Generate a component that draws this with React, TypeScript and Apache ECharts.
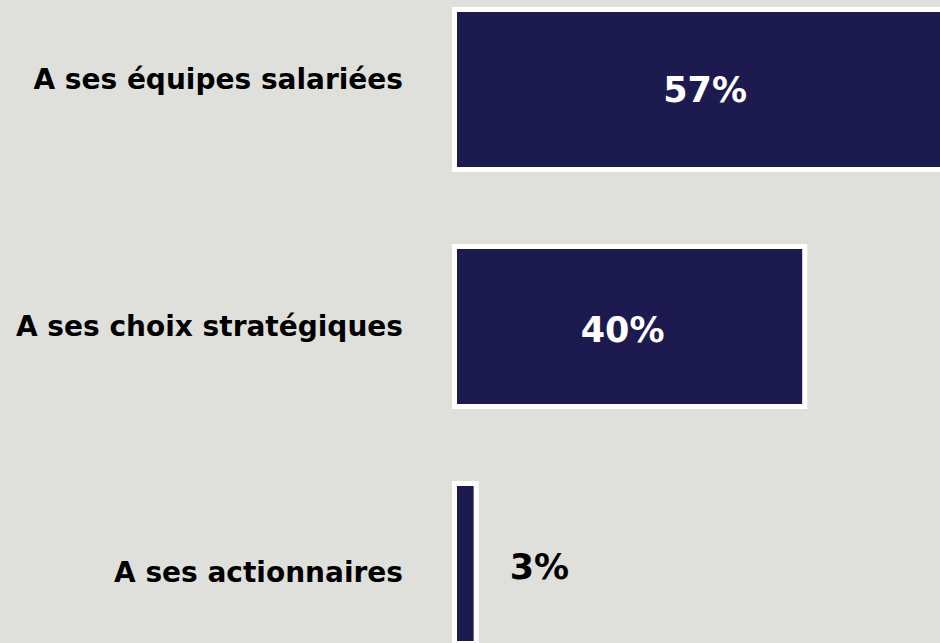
import React, { useEffect, useRef } from "react";
import * as echarts from "echarts";

const categories = ["A ses équipes salariées", "A ses choix stratégiques", "A ses actionnaires"];
const values = [57, 40, 3];
const valueLabels = ["57%", "40%", "3%"];

export default function App() {
  const ref = useRef<HTMLDivElement>(null);
  useEffect(() => {
    if (!ref.current) return;
    const chart = echarts.init(ref.current, null, { renderer: "svg" });
    const valueOffsets = [[0, 0], [-7, 3], [0, 3]];
    const catFont = {
      fontFamily: "DejaVu Sans",
      fontWeight: "bold" as const,
      fontSize: 28,
      color: "#000",
    };
    chart.setOption({
      animation: false,
      backgroundColor: "#dfe0db",
      grid: { left: 452, right: 0, top: 0, bottom: 0, containLabel: false },
      xAxis: {
        type: "value",
        min: 0,
        max: 100,
        show: false,
      },
      yAxis: {
        type: "category",
        inverse: true,
        data: categories,
        axisLine: { show: false },
        axisTick: { show: false },
        axisLabel: {
          margin: 49,
          ...catFont,
          formatter: (v: string, i: number) => `{c${i}|${v}}`,
          rich: {
            c0: { ...catFont, padding: [0, 0, 20, 0] },
            c1: { ...catFont },
            c2: { ...catFont, padding: [18, 0, 0, 0] },
          },
        },
      },
      series: [
        {
          type: "bar",
          barWidth: 165,
          data: values.map((v, i) => ({
            value: v,
            label: {
              show: true,
              position: v > 10 ? "inside" : "right",
              distance: 31,
              offset: valueOffsets[i],
              color: v > 10 ? "#ffffff" : "#000000",
              formatter: () => valueLabels[i],
            },
          })),
          itemStyle: {
            color: "#1c1a4e",
            borderColor: "#ffffff",
            borderWidth: 5,
          },
          label: {
            fontFamily: "DejaVu Sans",
            fontWeight: "bold",
            fontSize: 35,
          },
        },
      ],
    });
    return () => chart.dispose();
  }, []);
  return (
    <div
      style={{
        position: "fixed",
        left: 0,
        top: 0,
        width: 940,
        height: 643,
        overflow: "hidden",
      }}
    >
      <div
        ref={ref}
        style={{ position: "absolute", left: 0, top: -29, width: 1340, height: 711 }}
      />
    </div>
  );
}
